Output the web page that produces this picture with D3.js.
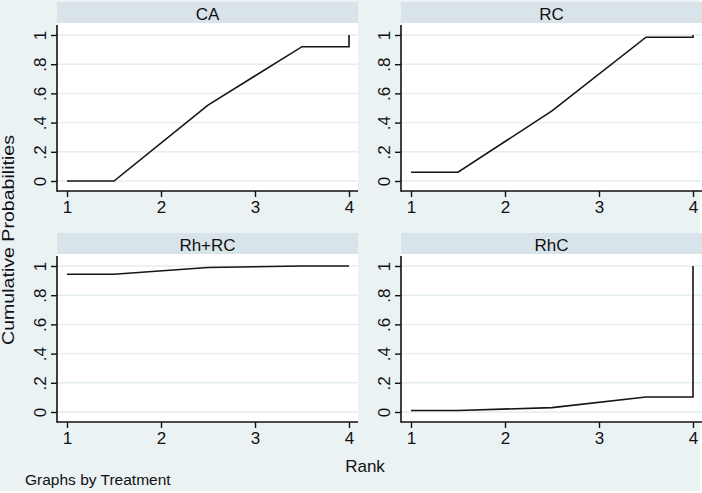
<!DOCTYPE html>
<html>
<head>
<meta charset="utf-8">
<script src="https://cdn.jsdelivr.net/npm/d3@7"></script>
<style>
  html, body { margin: 0; padding: 0; background: #ffffff; }
  svg { display: block; }
  text { font-family: "Liberation Sans", Arial, sans-serif; fill: #111; }
</style>
</head>
<body>
<svg id="chart" width="702" height="493"></svg>
<script>
// ---- data ----
const treatments = ["CA", "RC", "Rh+RC", "RhC"];
const rankX = [1, 1.5, 2.5, 3.5, 4, 4];
const caValues   = [0.00, 0.00, 0.52, 0.92, 0.92, 1.00];
const rcValues   = [0.06, 0.06, 0.48, 0.985, 0.985, 1.00];
const rhrcValues = [0.943, 0.943, 0.99, 1.00, 1.00, 1.00];
const rhcValues  = [0.01, 0.01, 0.03, 0.103, 0.103, 1.00];
const seriesValues = [caValues, rcValues, rhrcValues, rhcValues];
const xTicks = [1, 2, 3, 4];
const xTickLabels = ["1", "2", "3", "4"];
const yTicks = [0, 0.2, 0.4, 0.6, 0.8, 1];
const yTickLabels = ["0", ".2", ".4", ".6", ".8", "1"];
const yTitle = "Cumulative Probabilities";
const xTitle = "Rank";
const note = "Graphs by Treatment";

// ---- layout ----
const svg = d3.select("#chart");
const bg = "#EAF2F3", band = "#D8E4EA", grid = "#E4EEF0", ink = "#111";
const FONT = "'Liberation Sans', Arial, sans-serif";

svg.append("rect").attr("x", 0).attr("y", 0).attr("width", 700).attr("height", 491).attr("fill", bg);

const colLeft = [57, 401];
const rowTop = [2, 233];
const panelW = 301;
const headerH = 21;
const plotH = 168; // from header bottom to x-axis line

treatments.forEach((name, i) => {
  const col = i % 2, row = Math.floor(i / 2);
  const left = colLeft[col];
  const top = rowTop[row];
  const plotTop = top + headerH;
  const axisY = plotTop + plotH;

  const x = d3.scaleLinear().domain([1, 4]).range([left + 10, left + 292]);
  const y = d3.scaleLinear().domain([0, 1]).range([plotTop + 158, plotTop + 12]);

  const g = svg.append("g");

  // header band
  g.append("rect").attr("x", left).attr("y", top).attr("width", panelW).attr("height", headerH).attr("fill", band);
  g.append("text").attr("x", left + panelW / 2).attr("y", top + 17.5)
    .attr("text-anchor", "middle").attr("font-size", 17).text(name);

  // plot region
  g.append("rect").attr("x", left).attr("y", plotTop).attr("width", panelW).attr("height", plotH).attr("fill", "#fff");

  // gridlines
  g.append("g").selectAll("line").data(yTicks).join("line")
    .attr("x1", left).attr("x2", left + panelW)
    .attr("y1", d => y(d)).attr("y2", d => y(d))
    .attr("stroke", grid).attr("stroke-width", 1.4);

  // data line
  const pts = rankX.map((r, k) => [r, seriesValues[i][k]]);
  g.append("path").datum(pts)
    .attr("d", d3.line().x(d => x(d[0])).y(d => y(d[1])))
    .attr("fill", "none").attr("stroke", "#151515").attr("stroke-width", 1.6);

  // x axis
  const xAxis = d3.axisBottom(x).tickValues(xTicks).tickFormat((d, k) => xTickLabels[k]).tickSize(6).tickSizeOuter(0);
  const gx = g.append("g").attr("transform", `translate(0,${axisY})`).call(xAxis);
  gx.select(".domain").remove();
  gx.append("line").attr("x1", left).attr("x2", left + panelW).attr("y1", 0).attr("y2", 0)
    .attr("stroke", ink).attr("stroke-width", 1.6);
  gx.selectAll(".tick line").attr("stroke", ink).attr("stroke-width", 1.4);
  gx.selectAll(".tick text").attr("font-size", 17).attr("y", 9.5).attr("dy", "0.71em")
    .style("font-family", FONT).attr("fill", ink);

  // y axis
  const yAxis = d3.axisLeft(y).tickValues(yTicks).tickFormat((d, k) => yTickLabels[k]).tickSize(6).tickSizeOuter(0);
  const gy = g.append("g").attr("transform", `translate(${left},0)`).call(yAxis);
  gy.select(".domain").remove();
  gy.append("line").attr("x1", 0).attr("x2", 0).attr("y1", plotTop + 2).attr("y2", axisY + 0.8)
    .attr("stroke", ink).attr("stroke-width", 1.6);
  gy.selectAll(".tick line").attr("stroke", ink).attr("stroke-width", 1.4);
  gy.selectAll(".tick text")
    .attr("x", null).attr("dy", null)
    .attr("transform", "translate(-11,0) rotate(-90)")
    .attr("text-anchor", "middle")
    .attr("font-size", 17)
    .style("font-family", FONT).attr("fill", ink);
});

// axis titles
svg.append("text").attr("transform", "translate(14,240) rotate(-90)")
  .attr("text-anchor", "middle").attr("font-size", 17)
  .attr("textLength", 210).attr("lengthAdjust", "spacingAndGlyphs")
  .text(yTitle);
svg.append("text").attr("x", 365).attr("y", 472).attr("text-anchor", "middle").attr("font-size", 17).text(xTitle);
svg.append("text").attr("x", 25).attr("y", 485).attr("font-size", 15.5).text(note);
</script>
</body>
</html>
